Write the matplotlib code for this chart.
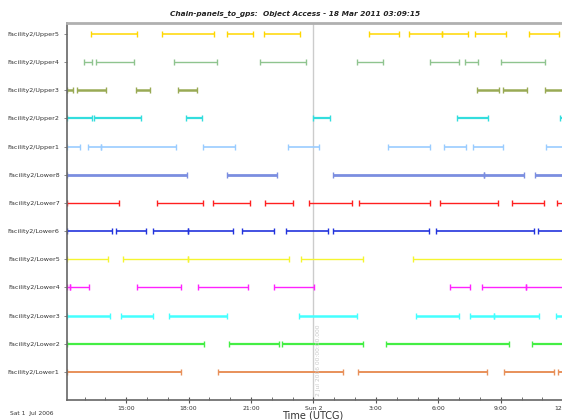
import matplotlib
matplotlib.use("Agg")
import matplotlib.pyplot as plt
from matplotlib.ticker import FixedLocator, MultipleLocator

# access intervals, hours since Sat 1 Jul 2006 00:00 UTCG
scenario_start = 12.17
scenario_stop = 36.17

names = ["Facility2/Lower1", "Facility2/Lower2", "Facility2/Lower3", "Facility2/Lower4",
         "Facility2/Lower5", "Facility2/Lower6", "Facility2/Lower7", "Facility2/Lower8",
         "Facility2/Upper1", "Facility2/Upper2", "Facility2/Upper3", "Facility2/Upper4",
         "Facility2/Upper5"]

lower1 = [(12.17, 17.62), (19.40, 25.41), (26.12, 32.34), (33.17, 35.54), (35.73, 36.17)]
lower2 = [(12.17, 18.75), (19.96, 22.35), (22.48, 26.38), (27.50, 33.42), (34.50, 36.17)]
lower3 = [(12.17, 14.23), (14.75, 16.28), (17.08, 19.84), (23.31, 26.09), (28.94, 31.00),
          (31.50, 32.69), (32.69, 34.82), (35.65, 36.17)]
lower4 = [(12.17, 12.32), (12.32, 13.23), (15.54, 17.62), (18.47, 20.87), (22.08, 24.02),
          (30.54, 31.53), (32.10, 34.21), (34.21, 36.17)]
lower5 = [(12.17, 14.12), (14.87, 17.99), (17.99, 22.83), (23.39, 26.36), (28.76, 36.17)]
lower6 = [(12.17, 14.34), (14.51, 15.96), (16.31, 17.99), (17.99, 20.15), (20.56, 22.12),
          (22.67, 24.72), (24.93, 29.55), (29.90, 34.61), (34.77, 36.17)]
lower7 = [(12.17, 14.67), (16.50, 18.71), (19.19, 20.96), (21.69, 23.04), (23.79, 25.85),
          (26.21, 29.61), (30.06, 32.89), (33.54, 35.06), (35.70, 36.17)]
lower8 = [(12.17, 17.94), (19.84, 22.27), (24.96, 32.21), (32.21, 34.10), (34.66, 36.17)]
upper1 = [(12.17, 12.78), (13.18, 13.81), (13.81, 17.40), (18.71, 20.25), (22.80, 24.29),
          (27.56, 29.61), (30.28, 31.34), (31.69, 33.09), (35.17, 36.17)]
upper2 = [(12.17, 13.35), (13.46, 15.72), (17.87, 18.66), (23.97, 24.80), (30.89, 32.37),
          (35.86, 36.17)]
upper3 = [(12.17, 12.43), (12.62, 14.03), (15.48, 16.15), (17.48, 18.42), (31.86, 32.94),
          (33.11, 34.26), (35.11, 36.17)]
upper4 = [(12.99, 13.37), (13.54, 15.39), (17.30, 19.37), (21.44, 23.65), (26.09, 27.34),
          (29.58, 31.00), (31.26, 31.93), (33.01, 35.11)]
upper5 = [(13.30, 15.54), (16.71, 19.24), (19.84, 21.09), (21.63, 23.33), (26.69, 28.09),
          (28.57, 30.17), (30.17, 31.45), (31.77, 33.26), (34.38, 35.78)]

intervals = [lower1, lower2, lower3, lower4, lower5, lower6, lower7, lower8,
             upper1, upper2, upper3, upper4, upper5]
colors = ["#e8905a", "#44ee44", "#44ffff", "#ff22ff", "#f5f530", "#2233dd", "#ff2020",
          "#7b8ee0", "#99ccff", "#33dddd", "#99aa55", "#8fc48f", "#ffd700"]
widths = [1.4, 1.6, 1.8, 1.0, 1.0, 1.2, 1.0, 2.0, 1.2, 1.6, 1.8, 1.0, 1.1]

major_hours = [15, 18, 21, 24, 27, 30, 33, 36]
major_labels = ["15:00", "18:00", "21:00", "Sun 2", "3:00", "6:00", "9:00", "12:00"]

fig = plt.figure(figsize=(5.62, 4.2), dpi=100)
ax = fig.add_axes([67.3 / 562, 1 - 400 / 420, (566.7 - 67.3) / 562, (400 - 22.7) / 420])

for row, (segs, c, lw) in enumerate(zip(intervals, colors, widths)):
    for start, stop in segs:
        ax.hlines(row, start, stop, color=c, lw=lw)
        ax.plot([start, stop], [row, row], ls="none", marker="|", ms=5, mew=1.0, color=c)

ax.axvline(24, color="#cccccc", lw=1, zorder=0)
ax.text(24.12, -0.85, "2 Jul 2006 00:00:00.000", rotation=90, fontsize=4.3,
        color="#c8c8c8", ha="left", va="bottom")

ax.set_xlim(scenario_start, scenario_stop)
ax.set_ylim(-1, 12.4)
ax.set_yticks(range(len(names)))
ax.set_yticklabels(names, fontsize=4.6, color="#333333")
ax.xaxis.set_major_locator(FixedLocator(major_hours))
ax.set_xticklabels(major_labels, fontsize=4.4, color="#333333")
ax.xaxis.set_minor_locator(MultipleLocator(1))
ax.tick_params(axis="x", which="major", direction="inout", length=5, width=0.8, color="#555555", pad=1.5)
ax.tick_params(axis="x", which="minor", direction="in", length=2.5, width=0.6, color="#555555")
ax.tick_params(axis="y", which="major", length=2.5, width=0.6, color="#777777", pad=3)

for side in ["left", "bottom"]:
    ax.spines[side].set_color("#666666")
    ax.spines[side].set_linewidth(1.2)
ax.spines["top"].set_color("#b0b0b0")
ax.spines["top"].set_linewidth(2)
ax.spines["right"].set_visible(False)

fig.text(295 / 562, 1 - 14.7 / 420, "Chain-panels_to_gps:  Object Access - 18 Mar 2011 03:09:15",
         fontsize=5.3, fontweight="bold", fontstyle="italic", ha="center", va="center", color="#222222")
fig.text(313 / 562, 1 - 415.5 / 420, "Time (UTCG)", fontsize=7, ha="center", va="center", color="#333333")
fig.text(10 / 562, 1 - 413 / 420, "Sat 1  Jul 2006", fontsize=4.3, ha="left", va="center", color="#333333")

fig.savefig("out.png", dpi=100)
